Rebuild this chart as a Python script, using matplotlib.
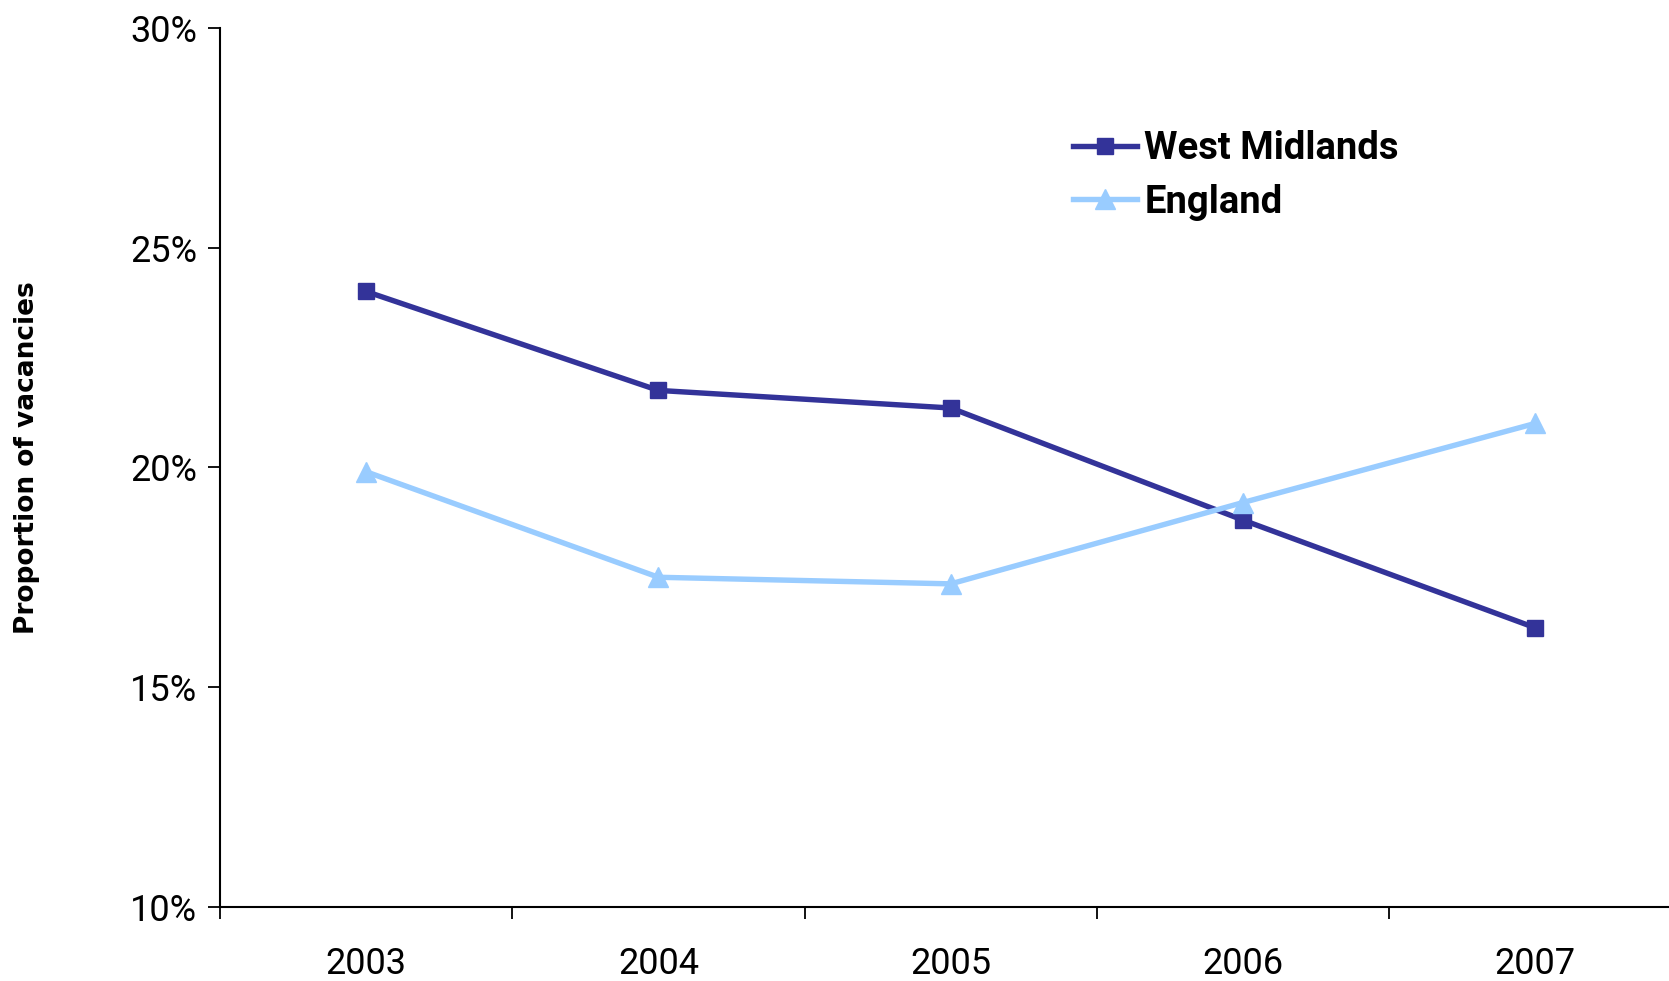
import matplotlib
matplotlib.use("Agg")
import matplotlib.pyplot as plt
from matplotlib.ticker import FixedLocator, FuncFormatter

# Chart values
years = ["2003", "2004", "2005", "2006", "2007"]
west_midlands = [24.0, 21.75, 21.35, 18.8, 16.35]
england = [19.9, 17.5, 17.35, 19.2, 21.0]
y_ticks = [10, 15, 20, 25, 30]

plt.rcParams["font.family"] = ["Roboto", "DejaVu Sans"]

fig = plt.figure(figsize=(16.69, 9.81), dpi=100)
# axis runs off the right-hand edge, as in the original
ax = fig.add_axes([220 / 1669, 1 - 907 / 981, 5 * 292.3 / 1669, (907 - 27.7) / 981])

x = [i + 0.5 for i in range(len(years))]
ax.plot(x, west_midlands, color="#333399", linewidth=3.9, marker="s",
        markersize=12, label="West Midlands", zorder=3)
ax.plot(x, england, color="#99CCFF", linewidth=3.9, marker="^",
        markersize=14.5, label="England", zorder=4)

ax.set_xlim(0, len(years))
ax.set_ylim(10, 30)

# category boundaries get the tick marks, labels sit in between
ax.xaxis.set_major_locator(FixedLocator(range(len(years) + 1)))
ax.xaxis.set_major_formatter(FuncFormatter(lambda v, p: ""))
ax.xaxis.set_minor_locator(FixedLocator(x))
ax.xaxis.set_minor_formatter(FuncFormatter(lambda v, p: years[int(v)]))
ax.tick_params(axis="x", which="major", length=8.5, width=1.3, direction="out")
ax.tick_params(axis="x", which="minor", length=0, labelsize=26, pad=28)

ax.set_yticks(y_ticks)
ax.set_yticklabels([f"{t}%" for t in y_ticks])
ax.tick_params(axis="y", length=8.5, width=1.3, labelsize=26, pad=8)

for side in ["top", "right"]:
    ax.spines[side].set_visible(False)
for side in ["left", "bottom"]:
    ax.spines[side].set_linewidth(1.5)

fig.text(27 / 1669, 1 - 458 / 981, "Proportion of vacancies", rotation=90,
         fontsize=19, fontweight="bold", family="DejaVu Sans",
         ha="center", va="center")

ax.legend(loc="upper left", bbox_to_anchor=(1073 / 1669, 1 - 130 / 981),
          bbox_transform=fig.transFigure, frameon=False, borderpad=0,
          borderaxespad=0, handlelength=1.67, handletextpad=0.2,
          labelspacing=0.44, prop={"size": 27.5, "weight": "bold"})

fig.savefig("out.png", dpi=100)
